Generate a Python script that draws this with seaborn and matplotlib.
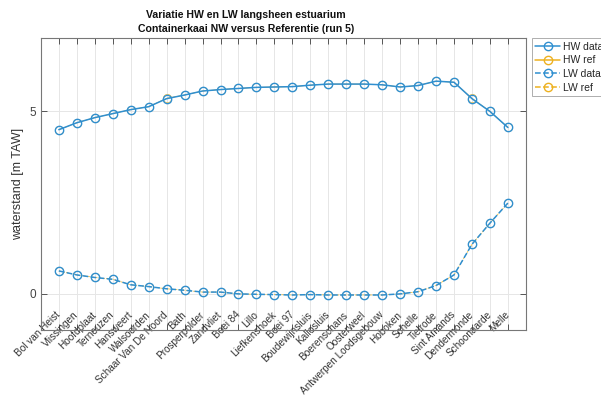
import numpy as np
import pandas as pd
import seaborn as sns
import matplotlib.pyplot as plt

# stations langs het estuarium
stations = ["Bol van Heist", "Vlissingen", "Hoofdplaat", "Terneuzen", "Hansweert",
            "Walsoorden", "Schaar Van De Noord", "Bath", "Prosperpolder", "Zandvliet",
            "Boei 84", "Lillo", "Liefkenshoek", "Boei 97", "Boudewijnsluis",
            "Kallosluis", "Boerenschans", "Oosterweel", "Antwerpen Loodsgebouw",
            "Hoboken", "Schelle", "Tielrode", "Sint Amands", "Dendermonde",
            "Schoonaarde", "Melle"]

hw_data = [4.49, 4.68, 4.82, 4.93, 5.04, 5.12, 5.34, 5.44, 5.55, 5.59, 5.62, 5.65, 5.66,
           5.67, 5.71, 5.74, 5.74, 5.74, 5.72, 5.66, 5.70, 5.82, 5.79, 5.34, 4.99, 4.55]
hw_ref = [4.49, 4.68, 4.82, 4.93, 5.04, 5.12, 5.35, 5.44, 5.55, 5.59, 5.62, 5.65, 5.66,
          5.67, 5.71, 5.74, 5.74, 5.74, 5.72, 5.66, 5.70, 5.82, 5.79, 5.35, 4.99, 4.55]
lw_data = [0.62, 0.51, 0.44, 0.39, 0.24, 0.19, 0.13, 0.09, 0.04, 0.04, -0.01, -0.02, -0.03,
           -0.04, -0.03, -0.04, -0.04, -0.04, -0.04, -0.01, 0.05, 0.22, 0.51, 1.35, 1.93, 2.48]
lw_ref = [0.62, 0.51, 0.44, 0.39, 0.24, 0.19, 0.13, 0.09, 0.04, 0.04, -0.01, -0.02, -0.03,
          -0.04, -0.03, -0.04, -0.04, -0.04, -0.04, -0.01, 0.05, 0.22, 0.51, 1.35, 1.93, 2.48]

pos = np.arange(1, len(stations) + 1)

sns.set_style('white')
plt.rcParams['font.family'] = ['Liberation Sans', 'DejaVu Sans']

blauw = '#2f8fd0'
oranje = '#EDB120'

fig = plt.figure(figsize=(6.01, 4.01), dpi=100)
ax = fig.add_axes([0.068, 0.177, 0.807, 0.728])

# ref eerst (dun), data er bovenop zodat ref nagenoeg verborgen is
series = [("HW ref", hw_ref, oranje, '-', 0.5),
          ("LW ref", lw_ref, oranje, '--', 0.5),
          ("HW data", hw_data, blauw, '-', 1.1),
          ("LW data", lw_data, blauw, '--', 1.1)]

for naam, vals, kleur, ls, lw in series:
    df = pd.DataFrame({"x": pos, "y": vals})
    sns.lineplot(data=df, x="x", y="y", ax=ax, color=kleur, linestyle=ls, linewidth=lw,
                 marker='o', markersize=6, markerfacecolor='none',
                 markeredgecolor=kleur, markeredgewidth=lw * 0.9, label=naam)

ax.set_xlim(0, 27)
ax.set_ylim(-1, 7)
ax.set_xticks(pos)
ax.set_xticklabels(stations, rotation=45, ha='right', va='center',
                   rotation_mode='anchor', fontsize=7.2, color='#333333')
ax.set_yticks([0, 5])
ax.tick_params(axis='y', labelsize=8.5, labelcolor='#444444')
ax.tick_params(axis='x', pad=-12)
ax.set_xlabel("")
ax.set_ylabel("waterstand [m TAW]", fontsize=9, color='#333333')

ax.grid(True, color='#e6e6e6', linewidth=0.7)
ax.set_axisbelow(True)
ax.tick_params(direction='in', length=4, width=0.7, color='#555555',
               top=True, right=True, bottom=True, left=True)
for s in ax.spines.values():
    s.set_color('#777777')
    s.set_linewidth(0.8)

fig.text(246 / 601, 1 - 22 / 401,
         "Variatie HW en LW langsheen estuarium\nContainerkaai NW versus Referentie (run 5)",
         fontsize=7.6, fontweight='bold', ha='center', va='center', linespacing=1.6,
         color='#111111')

h, l = ax.get_legend_handles_labels()
volg = [2, 0, 3, 1]
leg = ax.legend([h[i] for i in volg], [l[i] for i in volg], loc='upper left',
                bbox_to_anchor=(1.012, 1.0), fontsize=7.5,
                frameon=True, fancybox=False, edgecolor='#999999', borderaxespad=0,
                handlelength=2.4, handletextpad=0.25, labelspacing=0.35,
                borderpad=0.35)
leg.get_frame().set_linewidth(0.7)
for lh in leg.get_lines():
    if lh.get_color() == oranje:
        lh.set_linewidth(1.1)
        lh.set_markeredgewidth(1.0)

fig.savefig("out.png", dpi=100)
